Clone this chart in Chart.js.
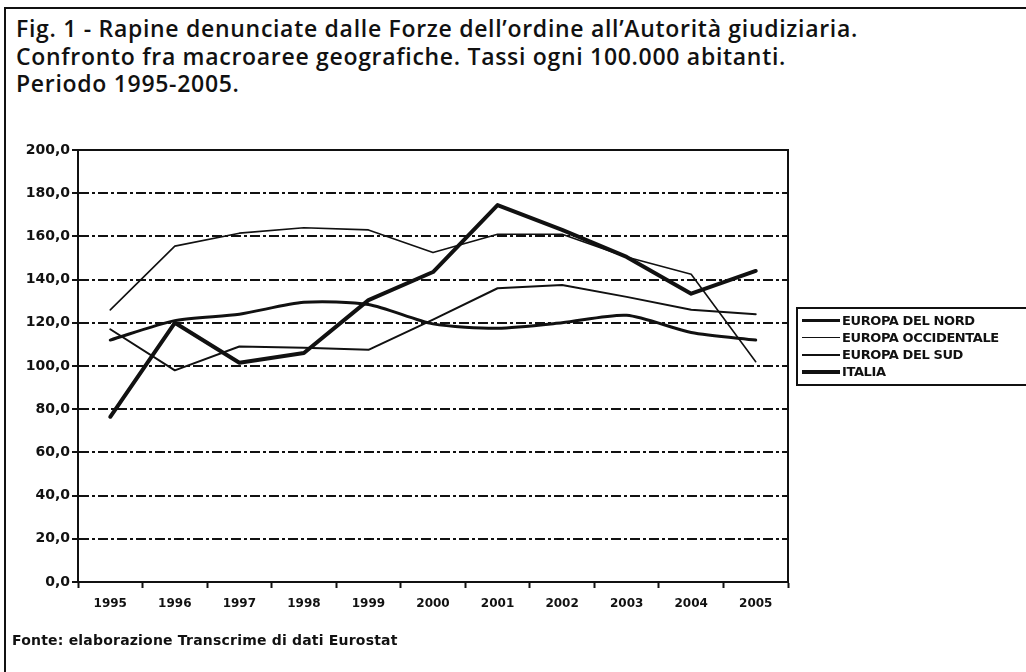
<!DOCTYPE html>
<html>
<head>
<meta charset="utf-8">
<script src="https://cdn.jsdelivr.net/npm/chart.js@4.4.1/dist/chart.umd.min.js"></script>
<style>
  html, body { margin: 0; padding: 0; background: #fff; }
  body { width: 1026px; height: 672px; position: relative; overflow: hidden; font-family: 'Open Sans', 'Noto Sans', sans-serif; color: #111; }
  #frame { position: absolute; left: 4px; top: 7px; width: 1100px; height: 800px; border: 2px solid #111; }
  #title { position: absolute; left: 16px; top: 15px; font-size: 23px; line-height: 27.5px; font-weight: 600; letter-spacing: 0.7px; }
  #chart { position: absolute; left: 0; top: 0; }
  #legend { position: absolute; left: 796px; top: 307px; width: 240px; border: 2px solid #111; padding: 3px 0 4px 0; }
  .item { height: 17px; display: flex; align-items: center; font: bold 13px 'DejaVu Sans', sans-serif; letter-spacing: -0.4px; }
  .swatch { width: 38px; margin: 0 2px 0 4px; background: #111; }
  #source { position: absolute; left: 12px; top: 632px; font: bold 14px 'DejaVu Sans', sans-serif; letter-spacing: 0.2px; }
</style>
</head>
<body>
<div id="frame"></div>
<div id="title">Fig. 1 - Rapine denunciate dalle Forze dell’ordine all’Autorità giudiziaria.<br>Confronto fra macroaree geografiche. Tassi ogni 100.000 abitanti.<br>Periodo 1995-2005.</div>
<canvas id="chart" width="1026" height="672"></canvas>
<div id="legend"></div>
<div id="source">Fonte: elaborazione Transcrime di dati Eurostat</div>
<script>
const years = ['1995', '1996', '1997', '1998', '1999', '2000', '2001', '2002', '2003', '2004', '2005'];
const seriesNames = ['EUROPA DEL NORD', 'EUROPA OCCIDENTALE', 'EUROPA DEL SUD', 'ITALIA'];
const nord = [112, 121, 124, 129.5, 128.5, 119.5, 117.5, 120, 123.5, 115.5, 112];
const occidentale = [126, 155.5, 161.5, 164, 163, 152.5, 161, 161, 150.5, 142.5, 102];
const sud = [117, 98, 109, 108.5, 107.5, 121.5, 136, 137.5, 132, 126, 124];
const italia = [76.5, 120, 101.5, 106, 130.5, 143.5, 174.5, 163, 150.5, 133.5, 144];
const lineWidths = [3, 1.6, 2, 4];
const tensions = [0.25, 0, 0, 0];

const ink = '#111';
const values = [nord, occidentale, sud, italia];

const frame = {
  id: 'frame',
  afterDatasetsDraw(chart) {
    const a = chart.chartArea, c = chart.ctx;
    c.save();
    c.strokeStyle = ink;
    c.lineWidth = 2;
    c.strokeRect(a.left, a.top, a.right - a.left, a.bottom - a.top);
    c.restore();
  }
};

const chart = new Chart(document.getElementById('chart'), {
  type: 'line',
  data: {
    labels: years,
    datasets: values.map((v, i) => ({
      label: seriesNames[i],
      data: v,
      borderColor: ink,
      borderWidth: lineWidths[i],
      tension: tensions[i],
      pointRadius: 0,
      borderJoinStyle: 'round',
      borderCapStyle: 'round',
      fill: false
    }))
  },
  options: {
    responsive: false,
    devicePixelRatio: 1,
    animation: false,
    layout: { padding: { left: 8, top: 150, right: 238, bottom: 60 } },
    plugins: { legend: { display: false }, tooltip: { enabled: false } },
    scales: {
      x: {
        offset: true,
        afterFit: s => { s.height = 30; },
        grid: { offset: true, drawOnChartArea: false, color: ink, tickLength: 6, tickWidth: 2 },
        border: { color: ink, width: 2 },
        ticks: { color: ink, padding: 9, font: { family: 'DejaVu Sans', weight: 'bold', size: 12 } }
      },
      y: {
        min: 0,
        max: 200,
        afterFit: s => { s.width = 70; },
        grid: { color: ink, lineWidth: 2, tickBorderDash: [], tickColor: ink, tickWidth: 2, tickLength: 6 },
        border: { color: ink, width: 2, dash: [10, 3, 3, 3] },
        ticks: {
          stepSize: 20,
          color: ink,
          padding: 2,
          font: { family: 'DejaVu Sans', weight: 'bold', size: 14 },
          callback: v => v.toFixed(1).replace('.', ',')
        }
      }
    }
  },
  plugins: [frame]
});

// legend built from the datasets
const legend = document.getElementById('legend');
chart.data.datasets.forEach(ds => {
  const row = document.createElement('div');
  row.className = 'item';
  const sw = document.createElement('span');
  sw.className = 'swatch';
  sw.style.height = ds.borderWidth + 'px';
  row.appendChild(sw);
  row.appendChild(document.createTextNode(ds.label));
  legend.appendChild(row);
});
</script>
</body>
</html>
